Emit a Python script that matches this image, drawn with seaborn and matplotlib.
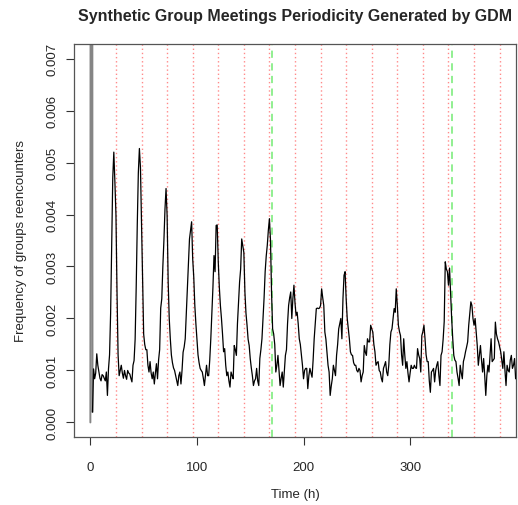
import numpy as np
import pandas as pd
import matplotlib
matplotlib.use("Agg")
import matplotlib.pyplot as plt
import seaborn as sns

# hourly frequency of group re-encounters (x 1e-3)
freq_e3 = [
    0.0, 50, 0.2, 1.03, 0.84, 0.95, 1.32, 1.1, 0.97, 0.85, 0.80, 0.92, 0.9, 0.85, 0.8, 0.97, 0.52, 1.03, 1.3, 2.1, 3.4, 4.7, 5.2, 4.63,
    4.0, 2.5, 1.3, 0.9, 1.0, 1.1, 0.95, 0.85, 1.0, 0.9, 0.83, 1.0, 0.95, 0.93, 0.85, 0.78, 1.1, 1.19, 1.6, 2.6, 3.8, 4.8, 5.27, 4.9,
    3.8, 2.6, 1.7, 1.5, 1.4, 1.4, 1.1, 0.97, 1.17, 0.95, 0.84, 0.97, 0.74, 0.95, 1.13, 0.84, 1.2, 1.4, 2.2, 2.38, 3.0, 3.5, 4.1, 4.5,
    3.98, 2.7, 2.0, 1.61, 1.3, 1.15, 1.05, 1.0, 0.9, 0.8, 0.71, 0.9, 0.97, 0.74, 1.0, 1.35, 1.45, 1.61, 2.1, 2.57, 3.1, 3.53, 3.7, 3.86,
    3.15, 2.8, 2.25, 1.9, 1.61, 1.3, 1.15, 1.04, 1.0, 0.97, 0.85, 0.71, 0.9, 1.1, 0.9, 0.9, 1.2, 1.61, 2.12, 2.6, 3.21, 2.9, 3.79, 3.8,
    3.09, 2.6, 2.25, 2.0, 1.7, 1.36, 1.42, 1.1, 0.9, 0.97, 0.8, 0.68, 0.97, 0.9, 0.84, 1.48, 1.4, 1.29, 1.9, 2.32, 2.7, 2.95, 3.53, 3.4,
    3.27, 2.51, 2.1, 1.87, 1.6, 1.48, 1.23, 1.05, 0.9, 0.71, 0.8, 0.84, 1.04, 0.8, 0.71, 1.23, 1.4, 1.61, 2.0, 2.4, 2.9, 3.2, 3.41, 3.7,
    3.92, 3.5, 2.5, 1.8, 1.7, 1.5, 0.97, 1.1, 1.29, 1.0, 0.71, 0.85, 0.97, 0.68, 1.0, 1.29, 1.4, 1.9, 2.25, 2.4, 2.51, 2.0, 2.38, 2.64,
    2.3, 2.06, 2.12, 1.9, 1.61, 1.5, 1.29, 1.1, 0.84, 1.0, 1.04, 1.04, 0.65, 0.9, 1.04, 0.95, 0.87, 1.2, 1.61, 1.9, 2.19, 2.2, 2.19, 2.2,
    2.25, 2.57, 2.4, 2.25, 1.74, 1.6, 1.36, 1.1, 0.97, 0.52, 0.7, 0.84, 1.1, 1.0, 0.9, 1.29, 1.5, 1.8, 1.9, 2.0, 1.61, 2.38, 2.83, 2.9,
    2.38, 2.0, 1.8, 1.61, 1.36, 1.3, 1.29, 1.15, 1.1, 1.1, 1.0, 0.97, 1.04, 1.0, 0.78, 0.9, 0.97, 1.48, 1.35, 1.29, 1.61, 1.55, 1.55, 1.87,
    1.8, 1.74, 1.5, 1.36, 1.1, 1.15, 1.17, 1.0, 0.97, 0.85, 0.78, 1.04, 1.1, 1.17, 0.97, 0.9, 1.1, 1.5, 1.74, 1.8, 2.0, 2.19, 2.12, 2.57,
    2.25, 1.87, 1.75, 1.67, 1.3, 1.1, 1.61, 1.3, 1.04, 1.17, 0.95, 0.78, 0.95, 1.1, 1.04, 1.04, 1.1, 1.05, 1.04, 1.42, 1.3, 1.23, 0.97, 1.67,
    1.75, 1.87, 1.61, 1.3, 1.17, 1.17, 0.8, 0.58, 0.97, 1.0, 1.04, 0.78, 1.0, 1.1, 1.17, 0.9, 0.71, 1.29, 1.36, 1.6, 1.94, 3.09, 2.95, 2.9,
    2.64, 2.97, 2.5, 2.0, 1.61, 1.29, 1.2, 1.17, 0.97, 0.85, 0.71, 1.1, 0.95, 0.84, 1.17, 1.25, 1.36, 1.45, 1.55, 1.87, 2.1, 2.32, 2.25, 2.0,
    1.87, 2.0, 1.75, 1.48, 1.1, 1.3, 1.48, 1.2, 0.97, 1.23, 0.9, 0.52, 0.9, 1.1, 0.97, 1.3, 1.61, 1.17, 1.2, 1.23, 1.93, 1.7, 1.61, 1.55,
    1.45, 1.36, 1.2, 1.04, 1.36, 1.0, 0.71, 1.1, 1.0, 0.97, 1.2, 1.29, 1.04, 1.1, 1.23, 0.84, 0.9,
]
hours = list(range(len(freq_e3)))

day_marks = [24, 48, 72, 96, 120, 144, 168, 192, 216, 240, 264, 288, 312, 336, 360, 384]
week_marks = [170.5, 339]

x_ticks = [0, 100, 200, 300]
y_ticks = [0.000, 0.001, 0.002, 0.003, 0.004, 0.005, 0.006, 0.007]
y_tick_labels = ["0.000", "0.001", "0.002", "0.003", "0.004", "0.005", "0.006", "0.007"]

title = "Synthetic Group Meetings Periodicity Generated by GDM"
xlabel = "Time (h)"
ylabel = "Frequency of groups reencounters"

df = pd.DataFrame({"hour": hours, "freq": np.array(freq_e3) * 1e-3})

sns.set_style("white")
plt.rcParams["font.family"] = ["Liberation Sans", "DejaVu Sans"]

fig = plt.figure(figsize=(5.18, 5.06), dpi=100)
ax = fig.add_axes([74 / 518, 1 - 438 / 506, (516 - 74) / 518, (438 - 45) / 506])

for d in day_marks:
    ax.axvline(d, color="#ff8a8a", lw=1.0, ls=(0, (1, 2)), zorder=1)
for w in week_marks:
    ax.axvline(w, color="#88ee88", lw=1.3, ls=(0, (4, 3)), zorder=1)

# initial burst drawn as the gray vertical band of the reference
sns.lineplot(data=df.iloc[:3], x="hour", y="freq", color="#858585", lw=1.4,
             estimator=None, ax=ax, zorder=2)
sns.lineplot(data=df.iloc[2:], x="hour", y="freq", color="black", lw=0.9,
             estimator=None, ax=ax, zorder=3)

ax.set_xlim(-15.36, 399.36)
ax.set_ylim(-0.00028, 0.00728)
ax.set_xticks(x_ticks)
ax.set_xticklabels([str(v) for v in x_ticks], fontsize=9.5)
ax.set_yticks(y_ticks)
ax.set_yticklabels(y_tick_labels, fontsize=9.5, rotation=90, va="center")
ax.tick_params(axis="x", direction="out", length=6, width=0.8, color="#333333",
               bottom=True, pad=11)
ax.tick_params(axis="y", direction="out", length=6, width=0.8, color="#333333",
               left=True, pad=5)
for s in ax.spines.values():
    s.set_color("#555555")
    s.set_linewidth(0.9)

ax.set_xlabel(xlabel, fontsize=9.5, labelpad=11)
ax.set_ylabel(ylabel, fontsize=9.5, labelpad=14)
fig.text((74 + 516) / 2 / 518, 1 - 17 / 506, title, ha="center", va="center",
         fontsize=11.5, fontweight="bold")

fig.savefig("out.png", dpi=100)
